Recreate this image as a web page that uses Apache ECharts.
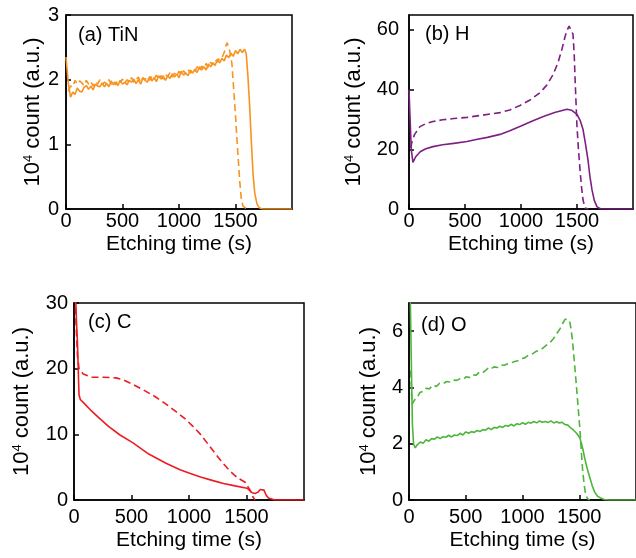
<!DOCTYPE html>
<html>
<head>
<meta charset="utf-8">
<script src="https://cdn.jsdelivr.net/npm/echarts@6/dist/echarts.min.js"></script>
<style>
  html, body { margin: 0; padding: 0; background: #fff; }
  #chart { width: 636px; height: 558px; }
</style>
</head>
<body>
<div id="chart"></div>
<script>
// tick labels
const timeTicks = [0, 500, 1000, 1500]
const panelTitles = ['(a) TiN', '(b) H', '(c) C', '(d) O']

// (a) TiN  [time s, 10^4 count]
const tinSolid = [
  [0, 2.35], [20, 1.95], [40, 1.73], [60, 1.81], [80, 1.77], [100, 1.87], [120, 1.82], [140, 1.81],
  [160, 1.88], [180, 1.91], [200, 1.85], [220, 1.90], [240, 1.84], [260, 1.93], [280, 1.90], [300, 1.89],
  [320, 1.95], [340, 1.89], [360, 1.94], [380, 1.89], [400, 1.98], [420, 1.92], [440, 1.96], [460, 1.91],
  [480, 1.99], [500, 1.93], [520, 1.96], [540, 1.92], [560, 1.99], [580, 1.96], [600, 2.01], [620, 1.94],
  [640, 2.00], [660, 1.93], [680, 2.02], [700, 1.99], [720, 1.96], [740, 2.05], [760, 1.98], [780, 2.03],
  [800, 1.97], [820, 2.06], [840, 2.01], [860, 2.06], [880, 1.99], [900, 2.06], [920, 2.02], [940, 2.09],
  [960, 2.04], [980, 2.09], [1000, 2.03], [1020, 2.13], [1040, 2.07], [1060, 2.10], [1080, 2.06], [1100, 2.15],
  [1120, 2.10], [1140, 2.16], [1160, 2.11], [1180, 2.20], [1200, 2.15], [1220, 2.20], [1240, 2.15], [1260, 2.24],
  [1280, 2.20], [1300, 2.26], [1320, 2.22], [1340, 2.32], [1360, 2.26], [1380, 2.33], [1400, 2.29], [1420, 2.38],
  [1440, 2.34], [1460, 2.41], [1480, 2.36], [1500, 2.45], [1520, 2.40], [1540, 2.47], [1560, 2.42], [1580, 2.47],
  [1595, 2.40], [1610, 2.05], [1625, 1.60], [1640, 1.05], [1655, 0.55], [1670, 0.25], [1690, 0.08], [1710, 0.02],
  [1740, 0], [2000, 0],
]
const tinDashed = [
  [20, 1.82], [40, 1.90], [60, 1.89], [80, 1.99], [100, 1.93], [120, 1.98], [140, 1.95], [160, 1.91],
  [180, 1.99], [200, 1.93], [220, 1.97], [240, 1.90], [260, 1.97], [280, 1.93], [300, 2.00], [320, 1.92],
  [340, 1.96], [360, 1.94], [380, 2.00], [400, 1.93], [420, 1.98], [440, 1.92], [460, 2.00], [480, 1.96],
  [500, 2.01], [520, 1.94], [540, 2.00], [560, 1.96], [580, 2.03], [600, 1.96], [620, 2.00], [640, 2.04],
  [660, 1.96], [680, 2.03], [700, 2.00], [720, 2.05], [740, 1.99], [760, 2.05], [780, 2.01], [800, 2.07],
  [820, 2.01], [840, 2.06], [860, 2.01], [880, 2.08], [900, 2.05], [920, 2.11], [940, 2.04], [960, 2.10],
  [980, 2.06], [1000, 2.13], [1020, 2.07], [1040, 2.14], [1060, 2.09], [1080, 2.16], [1100, 2.10], [1120, 2.16],
  [1140, 2.13], [1160, 2.20], [1180, 2.14], [1200, 2.21], [1220, 2.17], [1240, 2.25], [1260, 2.19], [1280, 2.27],
  [1300, 2.23], [1320, 2.31], [1340, 2.27], [1360, 2.34], [1380, 2.34], [1400, 2.42], [1415, 2.52], [1425, 2.57],
  [1440, 2.50], [1455, 2.40], [1468, 2.25], [1478, 2.00], [1490, 1.70], [1500, 1.45], [1512, 1.10], [1525, 0.75],
  [1538, 0.42], [1550, 0.18], [1565, 0.05], [1600, 0],
]

// (b) H
const hSolid = [
  [0, 40], [10, 30], [20, 20], [35, 15.6], [60, 17.5], [100, 19.2], [150, 20.2], [214, 20.9], [300, 21.5],
  [400, 22.0], [518, 22.6], [600, 23.3], [700, 24.0], [813, 25.0], [900, 26.2], [1000, 27.8], [1107, 29.6],
  [1200, 31.0], [1300, 32.3], [1411, 33.4], [1450, 33.1], [1500, 31.7], [1530, 29.5], [1554, 26.6], [1575, 22],
  [1598, 16.5], [1615, 11], [1634, 6.4], [1655, 2.8], [1679, 0.7], [1710, 0.1], [1740, 0], [2000, 0],
]
const hDashed = [
  [15, 20.5], [27, 22.6], [50, 25.0], [98, 27.6], [150, 28.6], [214, 29.3], [300, 29.9], [400, 30.3],
  [518, 30.7], [650, 31.4], [813, 32.3], [900, 33.2], [991, 34.7], [1080, 36.5], [1170, 39], [1230, 41.5],
  [1286, 45], [1330, 49], [1366, 53.6], [1395, 58], [1411, 59.8], [1429, 61.3], [1445, 60.8], [1464, 58.6],
  [1475, 52], [1482, 44.5], [1492, 35], [1500, 27.6], [1513, 20], [1527, 13.1], [1540, 7.5], [1554, 3],
  [1572, 0.3], [1600, 0],
]

// (c) C
const cSolid = [
  [12, 32], [22, 27], [30, 24], [35, 21], [40, 18], [44, 16], [55, 15.3], [78, 14.9], [150, 13.6],
  [217, 12.5], [300, 11.2], [400, 9.9], [513, 8.7], [650, 7.0], [800, 5.6], [922, 4.6], [1000, 4.1],
  [1100, 3.5], [1209, 2.95], [1300, 2.5], [1400, 2.15], [1505, 1.8], [1549, 1.1], [1575, 1.0], [1600, 1.2],
  [1620, 1.6], [1636, 1.8], [1652, 1.5], [1670, 0.76], [1690, 0.3], [1705, 0.1], [1749, 0], [2000, 0],
]
const cDashed = [
  [10, 31], [20, 26], [30, 22], [44, 20], [80, 19.2], [148, 18.7], [250, 18.7], [365, 18.6], [430, 18.3],
  [513, 17.6], [600, 16.8], [700, 15.8], [800, 14.6], [900, 13.3], [970, 12.3], [1030, 11.3], [1100, 10.0],
  [1170, 8.4], [1240, 6.8], [1300, 5.5], [1357, 4.4], [1420, 3.4], [1488, 2.7], [1531, 1.5], [1555, 0.5], [1575, 0],
]

// (d) O
const oSolid = [
  [10, 7.5], [20, 5.0], [30, 2.7], [40, 2.0], [55, 1.85], [70, 1.95], [85, 1.92], [100, 2.06], [125, 2.02],
  [150, 2.14], [175, 2.09], [200, 2.18], [225, 2.16], [250, 2.24], [275, 2.18], [300, 2.25], [325, 2.23],
  [350, 2.30], [375, 2.24], [400, 2.31], [425, 2.29], [450, 2.37], [475, 2.31], [500, 2.42], [525, 2.37],
  [550, 2.43], [575, 2.40], [600, 2.47], [625, 2.43], [650, 2.50], [675, 2.48], [700, 2.56], [725, 2.50],
  [750, 2.58], [775, 2.56], [800, 2.62], [825, 2.58], [850, 2.65], [875, 2.62], [900, 2.69], [925, 2.63],
  [950, 2.71], [975, 2.68], [1000, 2.75], [1025, 2.69], [1050, 2.76], [1075, 2.73], [1100, 2.79], [1125, 2.74],
  [1150, 2.81], [1175, 2.76], [1200, 2.79], [1225, 2.75], [1250, 2.81], [1275, 2.74], [1300, 2.78], [1325, 2.74],
  [1350, 2.76], [1375, 2.68], [1400, 2.66], [1425, 2.56], [1450, 2.48], [1470, 2.40], [1490, 2.30], [1505, 2.20],
  [1520, 2.00], [1535, 1.75], [1548, 1.49], [1570, 1.12], [1592, 0.82], [1615, 0.50], [1636, 0.28], [1660, 0.14],
  [1688, 0.07], [1720, 0.02], [1760, 0], [2000, 0],
]
const oDashed = [
  [15, 4.6], [26, 3.4], [40, 3.45], [60, 3.62], [80, 3.70], [96, 3.82], [125, 3.86], [150, 3.97], [180, 3.95],
  [210, 4.08], [240, 4.03], [270, 4.15], [300, 4.13], [330, 4.21], [360, 4.19], [390, 4.26], [420, 4.25],
  [450, 4.31], [480, 4.30], [505, 4.38], [530, 4.35], [560, 4.45], [590, 4.43], [620, 4.54], [650, 4.52],
  [680, 4.62], [700, 4.70], [720, 4.66], [750, 4.73], [780, 4.71], [810, 4.80], [840, 4.79], [870, 4.84],
  [900, 4.87], [930, 4.92], [960, 4.95], [990, 5.02], [1020, 5.05], [1053, 5.15], [1090, 5.20], [1120, 5.28],
  [1150, 5.33], [1180, 5.40], [1210, 5.50], [1240, 5.58], [1270, 5.72], [1300, 5.90], [1330, 6.08], [1355, 6.28],
  [1375, 6.42], [1385, 6.48], [1400, 6.42], [1418, 6.30], [1432, 5.95], [1444, 5.50], [1457, 4.90], [1470, 4.30],
  [1490, 3.30], [1505, 2.56], [1518, 1.75], [1531, 1.00], [1545, 0.50], [1557, 0.18], [1575, 0.04], [1592, 0],
]

// y scales per panel
const yMax = [3, 65, 30, 7]
const yStep = [1, 20, 10, 2]

const FONT = 'Liberation Sans, Arial, sans-serif'
const colors = ['#F7931E', '#7E1F84', '#EC1C24', '#4DB53A']

// layout (px)
const grids = [
  { left: 66, top: 15, width: 226, height: 194 },
  { left: 409, top: 15, width: 224, height: 194 },
  { left: 74, top: 303, width: 230, height: 197 },
  { left: 409, top: 303, width: 230, height: 197 },
]
const yNameGap = [21, 44, 41, 29]
const yLabelMargin = [7, 10, 6, 6]
const xLabelMargin = [2, 2, 7, 7]
const xNameGap = [25, 25, 30, 30]
const titlePos = [[78, 25], [425, 24], [88, 312], [421, 315]]

const lineAxis = { show: true, lineStyle: { color: '#000', width: 1.5 } }
const tick = { show: true, inside: true, length: 5, lineStyle: { color: '#000', width: 1.5 } }

const xAxes = grids.map((g, i) => ({
  type: 'value',
  gridIndex: i,
  min: 0,
  max: 2000,
  interval: 500,
  name: 'Etching time (s)',
  nameLocation: 'middle',
  nameGap: xNameGap[i],
  nameTextStyle: { fontFamily: FONT, fontSize: 21, color: '#000' },
  axisLine: lineAxis,
  axisTick: tick,
  splitLine: { show: false },
  axisLabel: {
    fontFamily: FONT,
    fontSize: 20,
    color: '#000',
    margin: xLabelMargin[i],
    showMaxLabel: false,
    formatter: (v) => (timeTicks.includes(v) ? String(v) : ''),
  },
}))

const yAxes = grids.map((g, i) => ({
  type: 'value',
  gridIndex: i,
  min: 0,
  max: yMax[i],
  interval: yStep[i],
  // 10^4 with superscript
  name: '{base|10}{sup|4}{base| count (a.u.)}',
  nameLocation: 'middle',
  nameGap: yNameGap[i],
  nameTextStyle: {
    fontFamily: FONT,
    fontSize: 22,
    color: '#000',
    lineHeight: 22,
    rich: {
      base: { fontFamily: FONT, fontSize: 22, color: '#000', lineHeight: 22 },
      sup: { fontFamily: FONT, fontSize: 13, color: '#000', verticalAlign: 'top', lineHeight: 13 },
    },
  },
  axisLine: lineAxis,
  axisTick: tick,
  splitLine: { show: false },
  axisLabel: {
    fontFamily: FONT,
    fontSize: 20,
    color: '#000',
    margin: yLabelMargin[i],
    showMaxLabel: yMax[i] % yStep[i] === 0,
  },
}))

const panels = [
  [tinSolid, tinDashed],
  [hSolid, hDashed],
  [cSolid, cDashed],
  [oSolid, oDashed],
]

const series = []
panels.forEach(([solid, dashed], i) => {
  const base = {
    type: 'line',
    xAxisIndex: i,
    yAxisIndex: i,
    symbol: 'none',
    clip: true,
    z: 3,
  }
  series.push({ ...base, data: solid, lineStyle: { color: colors[i], width: 1.6 } })
  series.push({ ...base, data: dashed, lineStyle: { color: colors[i], width: 1.6, type: [7, 4] } })
})

const option = {
  animation: false,
  backgroundColor: '#fff',
  title: panelTitles.map((t, i) => ({
    text: t,
    left: titlePos[i][0],
    top: titlePos[i][1],
    padding: 0,
    textStyle: { fontFamily: FONT, fontSize: 20, fontWeight: 'normal', color: '#000' },
  })),
  grid: grids.map((g) => ({ ...g, show: true, borderColor: '#000', borderWidth: 1.5, containLabel: false })),
  xAxis: xAxes,
  yAxis: yAxes,
  series,
}

const chart = echarts.init(document.getElementById('chart'))
chart.setOption(option)
</script>
</body>
</html>
